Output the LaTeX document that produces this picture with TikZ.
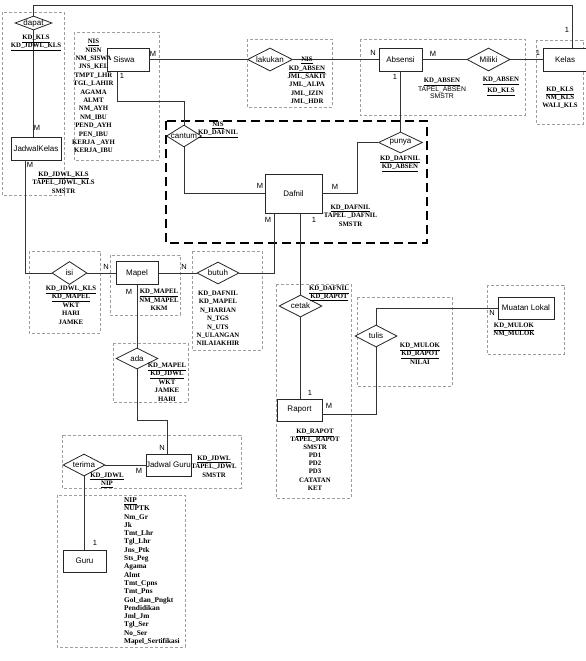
\documentclass[tikz,border=0pt]{standalone}
\usepackage{fontspec}
\setmainfont{Liberation Serif}
\setsansfont{Liberation Sans}
\usetikzlibrary{shapes.geometric}
\begin{document}
\begin{tikzpicture}[x=1pt,y=-1pt,
 ent/.style={draw=black!85, line width=0.8pt, fill=white, rectangle, inner sep=0pt},
 rel/.style={draw=black!85, line width=0.8pt, fill=white, diamond, inner sep=0pt},
 lbl/.style={font=\sffamily\fontsize{8}{9}\selectfont, inner sep=0pt},
 card/.style={font=\sffamily\fontsize{7.5}{8}\selectfont, inner sep=0pt},
 attr/.style={font=\bfseries\fontsize{6.8}{8.4}\selectfont, align=center, inner sep=0pt},
 grp/.style={draw=black!38, dash pattern=on 3pt off 2pt, line width=0.5pt},
 link/.style={draw=black!80, line width=0.7pt},
 focus/.style={draw=black, line width=2.8pt, dash pattern=on 9pt off 5pt}]
\fill[white] (0,0) rectangle (586,661);
\useasboundingbox (0,0) rectangle (586,661);

% attribute groups
\draw[grp] (2,12) rectangle (64,195);
\draw[grp] (74,32) rectangle (159,160);
\draw[grp] (247,39) rectangle (332,107);
\draw[grp] (360,39) rectangle (525,115);
\draw[grp] (536,40) rectangle (583,124);
\draw[grp] (29,251) rectangle (100,333);
\draw[grp] (110,255) rectangle (180,315);
\draw[grp] (192,251) rectangle (262,350);
\draw[grp] (276,284) rectangle (351,498);
\draw[grp] (357,297) rectangle (452,386);
\draw[grp] (487,285) rectangle (564,354);
\draw[grp] (113,343) rectangle (188,402);
\draw[grp] (62,435) rectangle (241,488);
\draw[grp] (57,495) rectangle (185,647);
\draw[focus] (166,121) rectangle (427,243);

% entities
\node[ent, minimum width=50, minimum height=23, label={[lbl]center:JadwalKelas}] (jk) at (36,148.5) {};
\node[ent, minimum width=42, minimum height=23, label={[lbl,xshift=-4pt]center:Siswa}] (siswa) at (128,59.5) {};
\node[ent, minimum width=43, minimum height=23, label={[lbl]center:Absensi}] (absensi) at (400.5,59.5) {};
\node[ent, minimum width=44, minimum height=23, label={[lbl]center:Kelas}] (kelas) at (565,59.5) {};
\node[ent, minimum width=57, minimum height=39, label={[lbl]center:Dafnil}] (dafnil) at (293.5,193.5) {};
\node[ent, minimum width=42, minimum height=23, label={[lbl]center:Mapel}] (mapel) at (137,273) {};
\node[ent, minimum width=45, minimum height=22, label={[lbl]center:Raport}] (raport) at (299.5,410) {};
\node[ent, minimum width=56, minimum height=22, label={[lbl]center:Muatan Lokal}] (mulok) at (526,308) {};
\node[ent, minimum width=45, minimum height=22, label={[lbl]center:Jadwal Guru}] (jg) at (168.5,465) {};
\node[ent, minimum width=43, minimum height=22, label={[lbl]center:Guru}] (guru) at (84.5,561) {};

% relationships
\node[rel, minimum width=37, minimum height=14, label={[lbl]center:dapat}] (dapat) at (33.5,23) {};
\node[rel, minimum width=45, minimum height=23, label={[lbl]center:lakukan}] (lakukan) at (270,59.5) {};
\node[rel, minimum width=43, minimum height=23, label={[lbl]center:Miliki}] (miliki) at (488.5,59.5) {};
\node[rel, minimum width=35, minimum height=22, label={[lbl]center:cantum}] (cantum) at (184,136) {};
\node[rel, minimum width=44, minimum height=21, label={[lbl]center:punya}] (punya) at (400.5,142.5) {};
\node[rel, minimum width=35, minimum height=23, label={[lbl]center:isi}] (isi) at (69.5,273) {};
\node[rel, minimum width=42, minimum height=22, label={[lbl]center:butuh}] (butuh) at (218,273) {};
\node[rel, minimum width=43, minimum height=22, label={[lbl]center:cetak}] (cetak) at (300.5,306) {};
\node[rel, minimum width=42, minimum height=22, label={[lbl]center:tulis}] (tulis) at (376,336) {};
\node[rel, minimum width=42, minimum height=21, label={[lbl]center:ada}] (ada) at (137,358.5) {};
\node[rel, minimum width=42, minimum height=22, label={[lbl]center:terima}] (terima) at (84,465) {};

% connectors
\coordinate (tl) at (33.5,5);
\coordinate (tr) at (572,5);
\draw[link] (dapat.north) -- (tl) -- (tr) -- (tr |- kelas.north);
\draw[link] (dapat.south) -- (dapat.south |- jk.north);
\coordinate (a1) at (25,273);
\draw[link] (a1 |- jk.south) -- (a1) -- (isi.west);
\draw[link] (isi.east) -- (mapel.west);
\draw[link] (mapel.east) -- (butuh.west);
\coordinate (a2) at (274,273);
\draw[link] (butuh.east) -- (a2) -- (a2 |- dafnil.south);
\draw[link] (cetak.north) -- (cetak.north |- dafnil.south);
\draw[link] (cetak.south) -- (cetak.south |- raport.north);
\draw[link] ([yshift=-4pt]raport.east) -| (tulis.south);
\draw[link] (tulis.north) |- (mulok.west);
\draw[link] (mapel.south) -- (ada.north);
\coordinate (a3) at (167,420);
\draw[link] (ada.south) |- (a3) -- (a3 |- jg.north);
\draw[link] (terima.east) -- (jg.west);
\draw[link] (terima.south) -- (terima.south |- guru.north);
\draw[link] (siswa.east) -- (lakukan.west);
\draw[link] (lakukan.east) -- (absensi.west);
\draw[link] (absensi.east) -- (miliki.west);
\draw[link] (miliki.east) -- (kelas.west);
\coordinate (a4) at (117,101);
\draw[link] (a4 |- siswa.south) -- (a4) -| (cantum.north);
\draw[link] (cantum.south) |- (dafnil.west);
\draw[link] (punya.north) -- (punya.north |- absensi.south);
\coordinate (a5) at (357,193.5);
\draw[link] (punya.west) -| (a5) -- (dafnil.east);

% cardinalities
\node[card] (k1) at (567,30) {1};
\node[card] (k2) at (37,128) {M};
\node[card] (k3) at (30,165) {M};
\node[card] (k4) at (153,54) {M};
\node[card] (k5) at (122,76) {1};
\node[card] (k6) at (373,53) {N};
\node[card] (k7) at (395,77) {1};
\node[card] (k8) at (433,54) {M};
\node[card] (k9) at (538,53) {1};
\node[card] (k10) at (260,186) {M};
\node[card] (k11) at (335,187) {M};
\node[card] (k12) at (268,220) {M};
\node[card] (k13) at (314,220) {1};
\node[card] (k14) at (106,267) {N};
\node[card] (k15) at (184,267) {N};
\node[card] (k16) at (129,292) {M};
\node[card] (k17) at (310,393) {1};
\node[card] (k18) at (329,406) {M};
\node[card] (k19) at (492,313) {N};
\node[card] (k20) at (162,448) {N};
\node[card] (k21) at (139,471) {M};
\node[card] (k22) at (95,543) {1};

% attributes
\node[attr] (t-dapat) at (36,43) {\underline{KD\_KLS}\\\underline{KD\_JDWL\_KLS}};
\node[attr] (t-jk) at (63.5,182.5) {\underline{KD\_JDWL\_KLS}\\TAPEL\_JDWL\_KLS\\SMSTR};
\node[attr] (t-siswa) at (93.5,96.5) {\underline{NIS}\\NISN\\NM\_SISWA\\JNS\_KEL\\TMPT\_LHR\\TGL\_LAHIR\\AGAMA\\ALMT\\NM\_AYH\\NM\_IBU\\PEND\_AYH\\PEN\_IBU\\KERJA \_AYH\\KERJA\_IBU};
\node[attr] (t-lakukan) at (307,81) {\underline{NIS}\\\underline{KD\_ABSEN}\\JML\_SAKIT\\JML\_ALPA\\JML\_IZIN\\JML\_HDR};
\node[attr, font=\bfseries\fontsize{6.8}{7.6}\selectfont] (t-absensi) at (442,88.5) {\underline{KD\_ABSEN}\\{\sffamily\mdseries TAPEL\_ABSEN}\\{\sffamily\mdseries SMSTR}};
\node[attr, font=\bfseries\fontsize{6.8}{11}\selectfont] (t-miliki) at (501,86.5) {\underline{KD\_ABSEN}\\\underline{KD\_KLS}};
\node[attr, font=\bfseries\fontsize{6.8}{8}\selectfont] (t-kelas) at (560,98) {\underline{KD\_KLS}\\NM\_KLS\\WALI\_KLS};
\node[attr] (t-cantum) at (218,130) {\underline{NIS}\\\underline{KD\_DAFNIL}};
\node[attr, font=\bfseries\fontsize{6.8}{7.4}\selectfont] (t-punya) at (400,163.5) {\underline{KD\_DAFNIL}\\\underline{KD\_ABSEN}};
\node[attr] (t-dafnil) at (350.5,215.5) {\underline{KD\_DAFNIL}\\TAPEL \_DAFNIL\\SMSTR};
\node[attr] (t-isi) at (71,305) {\underline{KD\_JDWL\_KLS}\\\underline{KD\_MAPEL}\\WKT\\HARI\\JAMKE};
\node[attr] (t-mapel) at (159,300) {\underline{KD\_MAPEL}\\NM\_MAPEL\\KKM};
\node[attr] (t-butuh) at (218,318.5) {KD\_DAFNIL\\KD\_MAPEL\\N\_HARIAN\\N\_TGS\\N\_UTS\\N\_ULANGAN\\NILAIAKHIR};
\node[attr, font=\bfseries\fontsize{6.8}{7.6}\selectfont] (t-cetak) at (329,293.5) {\underline{KD\_DAFNIL}\\\underline{KD\_RAPOT}};
\node[attr, font=\bfseries\fontsize{6.8}{8.1}\selectfont] (t-raport) at (315,459.5) {\underline{KD\_RAPOT}\\TAPEL\_RAPOT\\SMSTR\\PD1\\PD2\\PD3\\CATATAN\\KET};
\node[attr] (t-tulis) at (420,353.5) {\underline{KD\_MULOK}\\\underline{KD\_RAPOT}\\NILAI};
\node[attr] (t-mulok) at (514,330) {\underline{KD\_MULOK}\\NM\_MULOK};
\node[attr] (t-ada) at (167,382) {\underline{KD\_MAPEL}\\\underline{KD\_JDWL}\\WKT\\JAMKE\\HARI};
\node[attr] (t-jg) at (214,466.5) {\underline{KD\_JDWL}\\TAPEL\_JDWL\\SMSTR};
\node[attr] (t-terima) at (107,480) {\underline{KD\_JDWL}\\\underline{NIP}};
\node[attr, font=\bfseries\fontsize{7.3}{8.3}\selectfont, align=left, anchor=north west] (t-guru) at (124,497.5) {\underline{NIP}\\NUPTK\\Nm\_Gr\\Jk\\Tmt\_Lhr\\Tgl\_Lhr\\Jns\_Ptk\\Sts\_Peg\\Agama\\Almt\\Tmt\_Cpns\\Tmt\_Pns\\Gol\_dan\_Pngkt\\Pendidikan\\Jml\_Jm\\Tgl\_Ser\\No\_Ser\\Mapel\_Sertifikasi};
\end{tikzpicture}
\end{document}
